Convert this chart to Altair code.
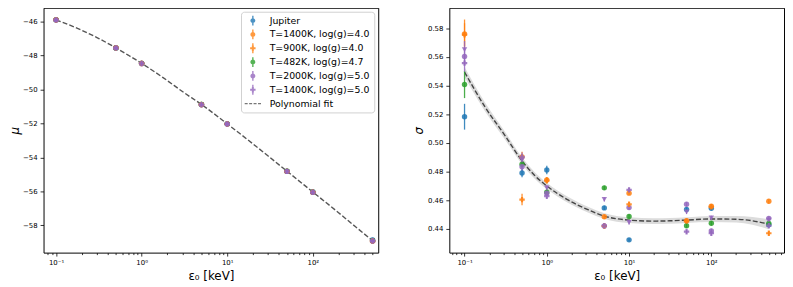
import altair as alt
import pandas as pd

# ---------------- data ----------------
E0 = [0.1, 0.5, 1, 5, 10, 50, 100, 500]

SERIES = ["Jupiter", "T=1400K, log(g)=4.0", "T=900K, log(g)=4.0",
          "T=482K, log(g)=4.7", "T=2000K, log(g)=5.0", "T=1400K, log(g)=5.0"]
FIT_LABEL = "Polynomial fit"
COLORS = ["#1f77b4", "#ff7f0e", "#ff7f0e", "#2ca02c", "#9467bd", "#9467bd"]
FIT_COLOR = "#555555"
MARKERS = ["circle", "circle", "cross", "circle", "circle", "cross"]

# mu values (left panel)
MU_JUPITER = [-45.90, -47.55, -48.46, -50.88, -52.02, -54.81, -56.03, -58.86]
MU_1400_40 = [-45.89, -47.54, -48.46, -50.88, -52.02, -54.82, -56.04, -58.91]
MU_900_40 = [-45.90, -47.55, -48.47, -50.89, -52.03, -54.82, -56.04, -58.92]
MU_482_47 = [-45.90, -47.55, -48.46, -50.88, -52.02, -54.81, -56.03, -58.90]
MU_2000_50 = [-45.91, -47.56, -48.47, -50.89, -52.03, -54.82, -56.05, -58.92]
MU_1400_50 = [-45.90, -47.55, -48.47, -50.89, -52.03, -54.82, -56.05, -58.92]
MU_ERR = [0.05, 0.05, 0.05, 0.05, 0.05, 0.05, 0.05, 0.05]

# sigma values (right panel)
SIG_JUPITER = [0.5183, 0.4790, 0.4811, 0.4547, 0.4324, 0.4536, 0.4545, 0.4430]
SIG_1400_40 = [0.5761, 0.4903, 0.4742, 0.4485, 0.4650, 0.4457, 0.4558, 0.4593]
SIG_900_40 = [0.5755, 0.4605, 0.4738, 0.4421, 0.4572, 0.4455, 0.4555, 0.4370]
SIG_482_47 = [0.5408, 0.4852, 0.4657, 0.4687, 0.4487, 0.4423, 0.4440, 0.4439]
SIG_2000_50 = [0.5603, 0.4834, 0.4650, 0.4421, 0.4549, 0.4572, 0.4386, 0.4474]
SIG_1400_50 = [0.5557, 0.4903, 0.4629, 0.4423, 0.4673, 0.4381, 0.4370, 0.4423]
SIG_EXTRA = [0.5651, 0.4880, 0.4687, 0.4607, 0.4446, 0.4519, 0.4478, 0.4462]

ERR_JUPITER = [0.0090, 0.0030, 0.0030, 0.0015, 0.0012, 0.0015, 0.0015, 0.0015]
ERR_1400_40 = [0.0100, 0.0035, 0.0020, 0.0015, 0.0015, 0.0015, 0.0015, 0.0015]
ERR_900_40 = [0.0080, 0.0040, 0.0020, 0.0015, 0.0015, 0.0015, 0.0015, 0.0015]
ERR_482_47 = [0.0095, 0.0030, 0.0020, 0.0015, 0.0015, 0.0015, 0.0015, 0.0015]
ERR_2000_50 = [0.0060, 0.0030, 0.0020, 0.0015, 0.0015, 0.0015, 0.0015, 0.0015]
ERR_1400_50 = [0.0060, 0.0030, 0.0020, 0.0015, 0.0015, 0.0015, 0.0015, 0.0015]
ERR_EXTRA = [0.0060, 0.0030, 0.0020, 0.0015, 0.0015, 0.0015, 0.0015, 0.0015]

# polynomial fit curves
FIT_E0 = [0.1, 0.178, 0.316, 0.5, 0.708, 1, 1.78, 3.16, 5, 10, 20, 31.6, 50, 100, 200, 316, 500]
FIT_MU = [-45.90, -46.40, -47.00, -47.55, -48.00, -48.46, -49.30, -50.20, -50.88,
          -52.02, -53.20, -54.00, -54.81, -56.03, -57.25, -58.08, -58.90]
FIT_SIG = [0.5495, 0.5250, 0.5045, 0.4875, 0.4775, 0.4700, 0.4605, 0.4535, 0.4490,
           0.4462, 0.4455, 0.4457, 0.4462, 0.4470, 0.4468, 0.4457, 0.4433]
FIT_SIG_HW = [0.0035, 0.0030, 0.0027, 0.0025, 0.0023, 0.0022, 0.0021, 0.0020, 0.0020,
              0.0020, 0.0020, 0.0020, 0.0020, 0.0021, 0.0023, 0.0027, 0.0035]

MU_TICKS = [-46, -48, -50, -52, -54, -56, -58]
SIG_TICKS = [0.44, 0.46, 0.48, 0.50, 0.52, 0.54, 0.56, 0.58]
X_MAJOR = [0.1, 1, 10, 100]

# ---------------- tables ----------------
mu_lists = [MU_JUPITER, MU_1400_40, MU_900_40, MU_482_47, MU_2000_50, MU_1400_50]
sig_lists = [SIG_JUPITER, SIG_1400_40, SIG_900_40, SIG_482_47, SIG_2000_50, SIG_1400_50]
err_lists = [ERR_JUPITER, ERR_1400_40, ERR_900_40, ERR_482_47, ERR_2000_50, ERR_1400_50]

rows = []
for name, mk, mus, sigs, errs in zip(SERIES, MARKERS, mu_lists, sig_lists, err_lists):
    for e, m, s, er, me in zip(E0, mus, sigs, errs, MU_ERR):
        rows.append(dict(e0=e, series=name, marker=mk, mu=m, mu_lo=m - me, mu_hi=m + me,
                         sig=s, sig_lo=s - er, sig_hi=s + er))
df = pd.DataFrame(rows)

extra = pd.DataFrame(dict(e0=E0, sig=SIG_EXTRA,
                          sig_lo=[s - e for s, e in zip(SIG_EXTRA, ERR_EXTRA)],
                          sig_hi=[s + e for s, e in zip(SIG_EXTRA, ERR_EXTRA)]))

fit = pd.DataFrame(dict(e0=FIT_E0, mu=FIT_MU, sig=FIT_SIG,
                        lo=[s - h for s, h in zip(FIT_SIG, FIT_SIG_HW)],
                        hi=[s + h for s, h in zip(FIT_SIG, FIT_SIG_HW)]))

legend_df = pd.DataFrame(dict(series=SERIES + [FIT_LABEL]))

# ---------------- legend symbols ----------------
BAR = "M-0.14,-1 L0.14,-1 L0.14,1 L-0.14,1 Z"
CIRCLE_BAR = "M0.5,0 A0.5,0.5 0 1,1 -0.5,0 A0.5,0.5 0 1,1 0.5,0 Z " + BAR
PLUS_BAR = ("M-0.2,-0.55 L0.2,-0.55 L0.2,-0.2 L0.55,-0.2 L0.55,0.2 L0.2,0.2 L0.2,0.55 "
            "L-0.2,0.55 L-0.2,0.2 L-0.55,0.2 L-0.55,-0.2 L-0.2,-0.2 Z " + BAR)
DASH = ("M-1.65,-0.13 L-1.05,-0.13 L-1.05,0.13 L-1.65,0.13 Z "
        "M-0.75,-0.13 L-0.15,-0.13 L-0.15,0.13 L-0.75,0.13 Z "
        "M0.15,-0.13 L0.75,-0.13 L0.75,0.13 L0.15,0.13 Z "
        "M1.05,-0.13 L1.65,-0.13 L1.65,0.13 L1.05,0.13 Z")
LEG_SHAPES = [CIRCLE_BAR if m == "circle" else PLUS_BAR for m in MARKERS] + [DASH]

color_scale = alt.Scale(domain=SERIES + [FIT_LABEL], range=COLORS + [FIT_COLOR])
shape_scale = alt.Scale(domain=SERIES + [FIT_LABEL], range=LEG_SHAPES)

FONT = "DejaVu Sans"
MAJOR_TEST = "datum.value == 0.1 || datum.value == 1 || datum.value == 10 || datum.value == 100"
LABEL_EXPR = ("datum.value == 0.1 ? '10⁻¹' : datum.value == 1 ? '10⁰' : "
              "datum.value == 10 ? '10¹' : datum.value == 100 ? '10²' : ''")


def x_enc(domain, minor):
    axis = alt.Axis(values=sorted(X_MAJOR + minor), labelExpr=LABEL_EXPR,
                    tickSize={"condition": {"test": MAJOR_TEST, "value": 3.5}, "value": 2},
                    labelOverlap=False, labelFlush=False, grid=False, domain=False,
                    tickColor="black", tickWidth=0.8, labelFontSize=7, labelFont=FONT,
                    labelColor="black", labelPadding=3, title="ε₀ [keV]",
                    titleFont=FONT, titleFontSize=12, titleFontWeight="normal",
                    titleColor="black", titlePadding=5)
    return alt.X("e0:Q", scale=alt.Scale(type="log", domain=domain, nice=False), axis=axis)


def y_axis(values, fmt, title, tpad):
    return alt.Axis(values=values, format=fmt, grid=False, domain=False, tickSize=3.5,
                    tickColor="black", tickWidth=0.8, labelFontSize=7, labelFont=FONT,
                    labelColor="black", labelPadding=3, title=title, titleFont=FONT,
                    titleFontSize=12, titleFontWeight="normal", titleFontStyle="italic",
                    titleColor="black", titlePadding=tpad)


MINOR_L = [0.08, 0.09, 0.2, 0.3, 0.4, 0.5, 0.6, 0.7, 0.8, 0.9, 2, 3, 4, 5, 6, 7, 8, 9,
           20, 30, 40, 50, 60, 70, 80, 90, 200, 300, 400, 500]
MINOR_R = [0.07, 0.08, 0.09, 0.2, 0.3, 0.4, 0.5, 0.6, 0.7, 0.8, 0.9, 2, 3, 4, 5, 6, 7, 8, 9,
           20, 30, 40, 50, 60, 70, 80, 90, 200, 300, 400, 500, 600, 700]

MU_DOMAIN = [-59.6, -45.19]
SIG_DOMAIN = [0.4235, 0.5943]

XL = x_enc([0.0714, 582], MINOR_L)
XR = x_enc([0.0653, 765], MINOR_R)


def y_mu(field):
    return alt.Y(field, scale=alt.Scale(domain=MU_DOMAIN, nice=False, zero=False),
                 axis=y_axis(MU_TICKS, "d", "μ", 1))


def y_sig(field):
    return alt.Y(field, scale=alt.Scale(domain=SIG_DOMAIN, nice=False, zero=False),
                 axis=y_axis(SIG_TICKS, ".2f", "σ", 2))


PT_SIZE = 30
PT_OPACITY = 0.85

legend_props = dict(title=None, orient="top-right", offset=4, padding=4,
                    labelFont=FONT, labelFontSize=9.5, labelColor="black",
                    symbolSize=100, symbolStrokeWidth=0, symbolOpacity=0.8,
                    symbolOffset=3, labelOffset=12, rowPadding=4,
                    strokeColor="#d0d0d0", fillColor="white", cornerRadius=3)

# ---------------- left panel ----------------
leg_layer = alt.Chart(legend_df).transform_filter("false").mark_point(filled=True).encode(
    x=alt.X("e0:Q"), y=alt.Y("mu:Q"),
    color=alt.Color("series:N", scale=color_scale, legend=alt.Legend(**legend_props)),
    shape=alt.Shape("series:N", scale=shape_scale, legend=alt.Legend(**legend_props)),
)

fit_left = alt.Chart(fit).mark_line(color=FIT_COLOR, strokeDash=[5, 2.2], strokeWidth=1.4,
                                     interpolate="monotone").encode(x=XL, y=y_mu("mu:Q"))

err_left = alt.Chart(df).mark_rule(strokeWidth=1.3, opacity=1).encode(
    x=XL, y=y_mu("mu_lo:Q"), y2="mu_hi:Q",
    color=alt.Color("series:N", scale=color_scale, legend=None))


def pts(data, X, Y, shape, color=None, opacity=PT_OPACITY):
    base = alt.Chart(data).mark_point(filled=True, size=PT_SIZE, opacity=opacity, shape=shape)
    if color is None:
        return base.encode(x=X, y=Y, color=alt.Color("series:N", scale=color_scale, legend=None))
    return base.encode(x=X, y=Y, color=alt.value(color))


left_circ = pts(df[df.marker == "circle"], XL, y_mu("mu:Q"), "circle", opacity=1)
left_cross = pts(df[df.marker == "cross"], XL, y_mu("mu:Q"), "cross", opacity=1)

left = alt.layer(leg_layer, fit_left, err_left, left_circ, left_cross).properties(
    width=339, height=248)

# ---------------- right panel ----------------
band = alt.Chart(fit).mark_area(color="#9a9a9a", opacity=0.35, interpolate="monotone").encode(
    x=XR, y=y_sig("lo:Q"), y2="hi:Q")
fit_right = alt.Chart(fit).mark_line(color="#444444", strokeDash=[5, 2.2], strokeWidth=1.4,
                                      interpolate="monotone").encode(x=XR, y=y_sig("sig:Q"))
err_right = alt.Chart(df).mark_rule(strokeWidth=1.3, opacity=PT_OPACITY).encode(
    x=XR, y=y_sig("sig_lo:Q"), y2="sig_hi:Q",
    color=alt.Color("series:N", scale=color_scale, legend=None))
err_extra = alt.Chart(extra).mark_rule(strokeWidth=1.3, opacity=PT_OPACITY, color="#9467bd").encode(
    x=XR, y=y_sig("sig_lo:Q"), y2="sig_hi:Q")
right_circ = pts(df[df.marker == "circle"], XR, y_sig("sig:Q"), "circle")
right_cross = pts(df[df.marker == "cross"], XR, y_sig("sig:Q"), "cross")
right_tri = pts(extra, XR, y_sig("sig:Q"), "triangle-down", color="#9467bd")

right = alt.layer(band, fit_right, err_right, err_extra, right_circ, right_cross,
                  right_tri).properties(width=339, height=248)

chart = alt.hconcat(left, right, spacing=33).resolve_scale(
    color="independent", shape="independent").properties(
    padding={"left": 0, "top": -3, "right": 0, "bottom": 0}
).configure_view(stroke="black", strokeWidth=1)

chart.save("out.html", embed_options={"renderer": "svg", "actions": False})
